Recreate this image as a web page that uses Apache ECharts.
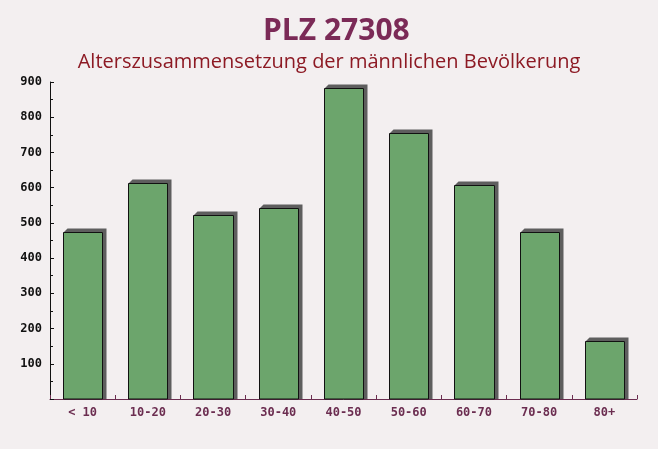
<!DOCTYPE html>
<html>
<head>
<meta charset="utf-8">
<script src="https://cdn.jsdelivr.net/npm/echarts@6/dist/echarts.min.js"></script>
<style>
html,body{margin:0;padding:0;background:#f3eff0;}
#c{width:658px;height:449px;}
</style>
</head>
<body>
<div id="c"></div>
<script>
var categories = ['< 10','10-20','20-30','30-40','40-50','50-60','60-70','70-80','80+'];
var values = [475, 614, 523, 543, 883, 756, 608, 475, 164];
var yTicks = [0, 100, 200, 300, 400, 500, 600, 700, 800, 900];
var titleText = 'PLZ 27308';
var subtitleText = 'Alterszusammensetzung der männlichen Bevölkerung';

var chart = echarts.init(document.getElementById('c'), null, {renderer:'canvas'});
function renderBar(params, api) {
  var idx = api.value(0);
  var top = api.coord([idx, api.value(1)]);
  var base = api.coord([idx, 0]);
  var w = api.size([1, 0])[0] * 0.6;
  var left = Math.round(top[0] - w / 2) + 0.5;
  var right = Math.round(top[0] + w / 2) + 0.5;
  var ty = Math.round(top[1]) + 0.5;
  var by = base[1];
  var d = 4;
  return {
    type: 'group',
    children: [
      {type:'polygon', shape:{points:[[left+d, ty-d],[right+d, ty-d],[right+d, by],[right, by],[right, ty],[left, ty]]},
       style:{fill:'#5e5e5e'}},
      {type:'rect', shape:{x:left, y:ty, width:right-left, height:by-ty},
       style:{fill:'rgba(100,160,100,0.95)', stroke:'#111', lineWidth:1}}
    ]
  };
}
chart.setOption({
  backgroundColor: '#f3eff0',
  animation: false,
  title: [
    {text: titleText, left: 258, top: 11,
     textStyle:{fontFamily:'Open Sans', fontWeight:'bold', fontSize:30, color:'#7b2a57'}},
    {text: subtitleText, left: 'center', top: 47,
     textStyle:{fontFamily:'Open Sans', fontWeight:'normal', fontSize:20, color:'#8d1a24'}}
  ],
  grid: {left: 50, right: 21, top: 82, bottom: 50},
  xAxis: {
    type: 'category', data: categories,
    axisLine: {lineStyle:{color:'#6b2d50', width:1}},
    axisTick: {show:true, inside:true, length:4, lineStyle:{color:'#6b2d50'}},
    axisLabel: {fontFamily:'DejaVu Sans Mono', fontWeight:'bold', fontSize:12, color:'#6b2d50', margin:8}
  },
  yAxis: {
    type: 'value', min: yTicks[0], max: yTicks[yTicks.length-1], interval: 100,
    axisLine: {show:true, lineStyle:{color:'#111', width:1}},
    axisTick: {show:true, inside:true, length:4, lineStyle:{color:'#111'}},
    minorTick: {show:true, splitNumber:2, length:3, lineStyle:{color:'#111'}},
    splitLine: {show:false},
    axisLabel: {fontFamily:'DejaVu Sans Mono', fontWeight:'bold', fontSize:12, color:'#111', margin:8,
      formatter: function(v){ return v === 0 ? '' : String(v); }}
  },
  series: [{
    type: 'custom',
    renderItem: renderBar,
    encode: {x: 0, y: 1},
    data: values.map(function(v, i){ return [i, v]; })
  }]
});
</script>
</body>
</html>
